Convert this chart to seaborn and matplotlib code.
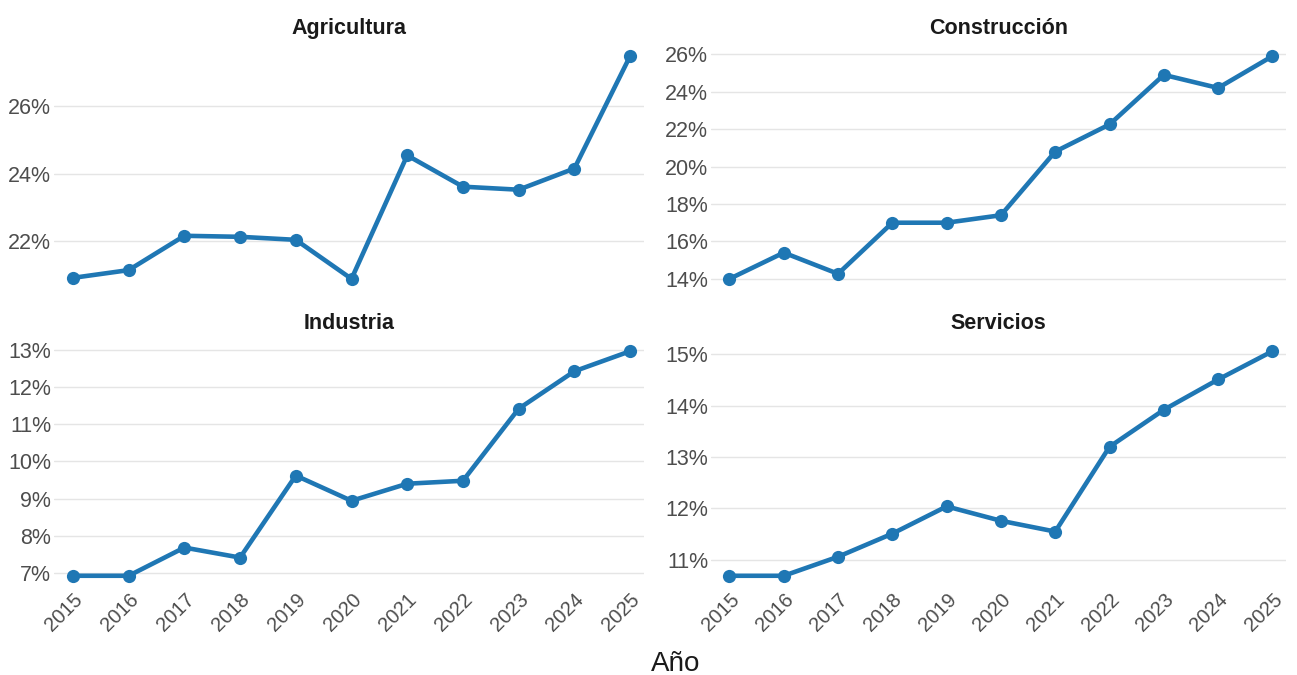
import matplotlib
matplotlib.use("Agg")
import matplotlib.pyplot as plt
import seaborn as sns
import pandas as pd
from matplotlib.ticker import FuncFormatter, MultipleLocator

years = [2015, 2016, 2017, 2018, 2019, 2020, 2021, 2022, 2023, 2024, 2025]
sectors = ["Agricultura", "Construcción", "Industria", "Servicios"]
agricultura = [20.90, 21.13, 22.15, 22.12, 22.03, 20.87, 24.54, 23.61, 23.52, 24.15, 27.49]
construccion = [14.00, 15.40, 14.27, 17.00, 17.00, 17.40, 20.80, 22.25, 24.90, 24.20, 25.90]
industria = [6.92, 6.92, 7.68, 7.41, 9.62, 8.94, 9.40, 9.48, 11.42, 12.43, 12.97]
servicios = [10.69, 10.69, 11.06, 11.51, 12.04, 11.76, 11.55, 13.20, 13.92, 14.51, 15.06]
values = {"Agricultura": agricultura, "Construcción": construccion,
          "Industria": industria, "Servicios": servicios}
tick_steps = {"Agricultura": 2, "Construcción": 2, "Industria": 1, "Servicios": 1}

df = pd.concat([pd.DataFrame({"Año": years, "valor": values[s], "sector": s}) for s in sectors],
               ignore_index=True)

sns.set_theme(style="whitegrid")
plt.rcParams["font.family"] = ["Liberation Sans", "DejaVu Sans"]

fig = plt.figure(figsize=(12.97, 6.75), dpi=100)
W, H = 1297, 675
cols = [(54, 644), (711, 1286)]
rows = [(45, 290), (340, 587)]
color = "#1f77b4"
grey = "#4d4d4d"

for i, s in enumerate(sectors):
    r, c = divmod(i, 2)
    x0, x1 = cols[c]
    yt, yb = rows[r]
    ax = fig.add_axes([x0 / W, 1 - yb / H, (x1 - x0) / W, (yb - yt) / H])
    sub = df[df["sector"] == s]
    sns.lineplot(data=sub, x="Año", y="valor", ax=ax, color=color, linewidth=3.3,
                 marker="o", markersize=9.5, markeredgewidth=0)
    v = values[s]
    rng = max(v) - min(v)
    ax.set_ylim(min(v) - 0.05 * rng, max(v) + 0.05 * rng)
    ax.set_xlim(2014.66, 2025.25)
    ax.yaxis.set_major_locator(MultipleLocator(tick_steps[s]))
    ax.yaxis.set_major_formatter(FuncFormatter(lambda y, p: f"{y:.0f}%"))
    ax.set_xticks(years)
    ax.grid(axis="x", visible=False)
    ax.grid(axis="y", color="#e5e5e5", linewidth=1.0)
    for sp in ax.spines.values():
        sp.set_visible(False)
    ax.set_facecolor("white")
    ax.set_xlabel("")
    ax.set_ylabel("")
    ax.tick_params(axis="both", length=0, labelcolor=grey, pad=2)
    ax.tick_params(axis="y", labelsize=15.5)
    ax.tick_params(axis="x", labelsize=14.5)
    ax.set_title(s, fontsize=15.5, fontweight="bold", pad=8, color="#1a1a1a")
    if r == 1:
        ax.set_xticklabels([str(y) for y in years], rotation=45, ha="right",
                           rotation_mode="anchor")
    else:
        ax.set_xticklabels([])

fig.text(676 / W, 1 - 664 / H, "Año", ha="center", va="center", fontsize=20, color="#1a1a1a")
fig.savefig("out.png", dpi=100, facecolor="white")
